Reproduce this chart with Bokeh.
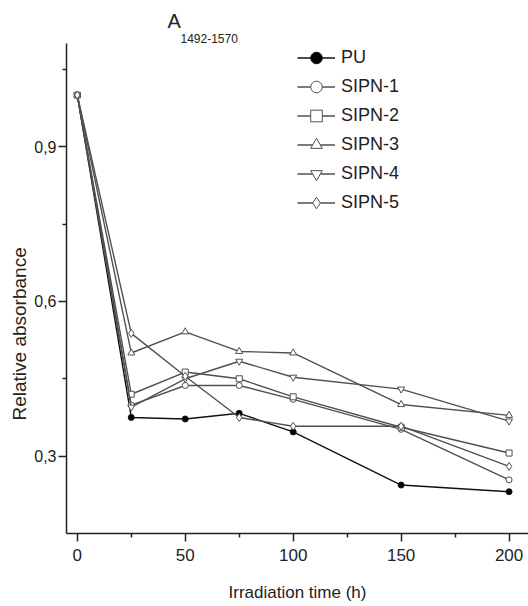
from bokeh.plotting import figure
from bokeh.models import FixedTicker, Legend, LegendItem, Range1d, Title
from bokeh.embed import file_html
from bokeh.resources import INLINE

time_h = [0, 25, 50, 75, 100, 150, 200]
pu = [1.0, 0.375, 0.372, 0.383, 0.347, 0.244, 0.231]
sipn1 = [1.0, 0.399, 0.437, 0.437, 0.410, 0.352, 0.254]
sipn2 = [1.0, 0.420, 0.463, 0.450, 0.415, 0.356, 0.306]
sipn3 = [1.0, 0.500, 0.541, 0.503, 0.500, 0.400, 0.379]
sipn4 = [1.0, 0.395, 0.450, 0.484, 0.453, 0.430, 0.368]
sipn5 = [1.0, 0.538, 0.455, 0.375, 0.358, 0.358, 0.280]
series_names = ["PU", "SIPN-1", "SIPN-2", "SIPN-3", "SIPN-4", "SIPN-5"]
y_ticks = [0.3, 0.6, 0.9]
y_tick_labels = ["0,3", "0,6", "0,9"]
x_ticks = [0, 50, 100, 150, 200]

NARROW = "'Liberation Sans Narrow', 'Arial Narrow', 'Liberation Sans', sans-serif"
SANS = "'Liberation Sans', Arial, sans-serif"
INK = "#222222"

p = figure(width=528, height=606, output_backend="svg", toolbar_location=None, title=None,
           x_range=Range1d(-5, 209), y_range=Range1d(0.15, 1.1),
           min_border_left=66, min_border_top=43, min_border_bottom=73, min_border_right=0)
p.outline_line_color = None
p.xgrid.visible = False
p.ygrid.visible = False
p.background_fill_color = "white"
p.border_fill_color = "white"

for ax in (p.xaxis[0], p.yaxis[0]):
    ax.axis_line_color = INK
    ax.axis_line_width = 1.5
    ax.major_tick_line_color = INK
    ax.major_tick_line_width = 1.5
    ax.minor_tick_line_color = INK
    ax.minor_tick_line_width = 1.5
    ax.major_tick_in = 0
    ax.major_tick_out = 8
    ax.minor_tick_in = 0
    ax.minor_tick_out = 4
    ax.major_label_text_font = NARROW
    ax.major_label_text_color = INK

p.xaxis.ticker = FixedTicker(ticks=x_ticks, minor_ticks=[25, 75, 125, 175])
p.xaxis.major_label_text_font_size = "17px"
p.xaxis.major_label_standoff = 7
p.xaxis.axis_label = "Irradiation time (h)"
p.xaxis.axis_label_text_font = NARROW
p.xaxis.axis_label_text_font_size = "17px"
p.xaxis.axis_label_text_font_style = "normal"
p.xaxis.axis_label_text_color = INK
p.xaxis.axis_label_standoff = 19

p.yaxis.ticker = FixedTicker(ticks=y_ticks, minor_ticks=[0.45, 0.75, 1.05])
p.yaxis.major_label_overrides = {t: l for t, l in zip(y_ticks, y_tick_labels)}
p.yaxis.major_label_text_font_size = "16px"
p.yaxis.major_label_standoff = 2

all_series = [pu, sipn1, sipn2, sipn3, sipn4, sipn5]
markers = ["circle", "circle", "square", "triangle", "inverted_triangle", "diamond"]
fills = ["black", "white", "white", "white", "white", "white"]
line_cols = ["#111111", "#505050", "#505050", "#505050", "#505050", "#505050"]
sizes = [6, 6, 6, 7, 7, 8]

items = []
for name, ys, mk, fc, lc, sz in zip(series_names, all_series, markers, fills, line_cols, sizes):
    r1 = p.line(time_h, ys, line_color=lc, line_width=1.4)
    r2 = p.scatter(time_h, ys, marker=mk, size=sz, fill_color=fc, line_color=lc, line_width=1)
    items.append(LegendItem(label=name, renderers=[r1, r2]))

legend = Legend(items=items, location=(231, 316), padding=0, margin=0, spacing=0,
                glyph_width=38, glyph_height=29, label_height=29, label_standoff=6,
                label_text_font=NARROW, label_text_font_size="18px",
                label_text_color=INK,
                border_line_color=None, background_fill_alpha=0)
p.add_layout(legend, "center")

# subscript (nearest the frame) and then the "A" above it
p.add_layout(Title(text="1492-1570", align="left", offset=114, standoff=1,
                   text_font=NARROW, text_font_size="12px", text_font_style="normal",
                   text_color=INK), "above")
p.add_layout(Title(text="A", align="left", offset=101, standoff=0,
                   text_font=SANS, text_font_size="20px", text_font_style="normal",
                   text_color=INK), "above")

# rotated y-axis title, starting above the frame bottom
p.add_layout(Title(text="Relative absorbance", align="left", offset=113, standoff=4,
                   text_font=SANS, text_font_size="19px", text_font_style="normal",
                   text_color=INK), "left")

open("out.html", "w").write(file_html(p, INLINE))
